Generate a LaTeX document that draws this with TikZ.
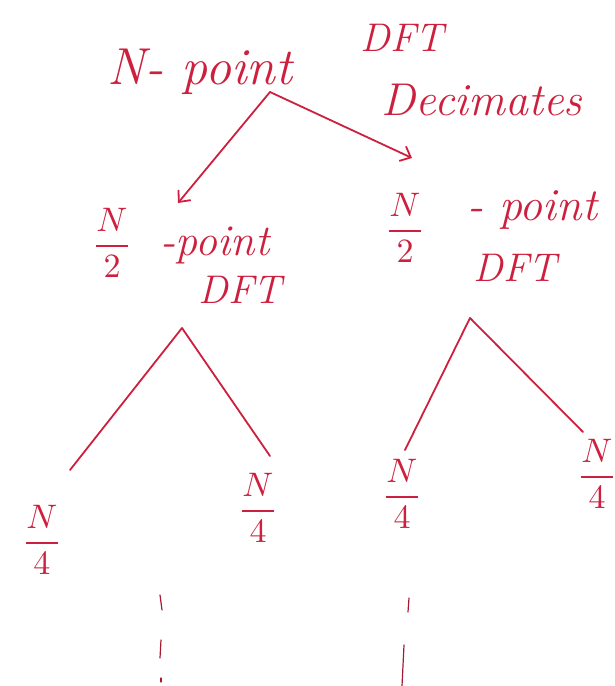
\documentclass[tikz,border=0pt]{standalone}
\usepackage{amsmath}
\usetikzlibrary{arrows.meta}
\definecolor{ink}{RGB}{205,32,62}
\tikzset{
  hand/.style={text=ink, font=\itshape\fontsize{40}{44}\selectfont, inner sep=0pt},
  bighand/.style={hand, font=\itshape\fontsize{52}{56}\selectfont},
  frac/.style={text=ink, scale=3.4, inner sep=0pt},
  wire/.style={draw=ink, line width=1.8pt, line cap=round, line join=round},
  tipped/.style={wire, -{Straight Barb[length=9pt,width=16pt,line width=1.8pt]}},
  dotmark/.style={draw=ink!80!black, line width=1.2pt, line cap=round}
}
\begin{document}
\begin{tikzpicture}[x=1pt,y=-1pt]
\useasboundingbox (0,0) rectangle (614,686);
\clip (0,0) rectangle (614,686);
% top node
\node[bighand] (top) at (200,72) {N- point};
\node[hand] (dft) at (402,38) {DFT};
\node[hand, font=\itshape\fontsize{46}{50}\selectfont] (dec) at (482,100) {Decimates};
\coordinate (a0) at (270,92);
\coordinate (la) at (178,203);
\coordinate (ra) at (412,158);
\draw[tipped] (a0) -- (la);
\draw[tipped] (a0) -- (ra);
% left node
\node[frac] (l2) at (112,243) {$\dfrac{N}{2}$};
\node[hand, font=\itshape\fontsize{44}{48}\selectfont] (lp) at (215,245) {-point};
\node[hand] (ld) at (240,290) {DFT};
\coordinate (a1) at (182,328);
\coordinate (l1e) at (70,470);
\coordinate (l2e) at (270,456);
\draw[wire] (a1) -- (l1e);
\draw[wire] (a1) -- (l2e);
% right node
\node[frac] (r2) at (405,228) {$\dfrac{N}{2}$};
\node[hand, font=\itshape\fontsize{46}{50}\selectfont] (rp) at (532,210) {- point};
\node[hand] (rd) at (515,268) {DFT};
\coordinate (a2) at (470,318);
\coordinate (r1e) at (405,450);
\coordinate (r2e) at (583,432);
\draw[wire] (a2) -- (r1e);
\draw[wire] (a2) -- (r2e);
% bottom fractions
\node[frac] (b1) at (42,540) {$\dfrac{N}{4}$};
\node[frac] (b2) at (258,508) {$\dfrac{N}{4}$};
\node[frac] (b3) at (402,494) {$\dfrac{N}{4}$};
\node[frac] (b4) at (597,474) {$\dfrac{N}{4}$};
% continuation dots
\coordinate (d1a) at (160,595); \coordinate (d1b) at (162,610);
\coordinate (d1c) at (161,640); \coordinate (d1d) at (160,658);
\coordinate (d1e) at (161,678); \coordinate (d1f) at (161,682);
\draw[dotmark] (d1a) -- (d1b);
\draw[dotmark] (d1c) -- (d1d);
\draw[dotmark] (d1e) -- (d1f);
\coordinate (d2a) at (409,598); \coordinate (d2b) at (408,612);
\coordinate (d2c) at (404,645); \coordinate (d2d) at (402,686);
\draw[dotmark] (d2a) -- (d2b);
\draw[dotmark] (d2c) -- (d2d);
\end{tikzpicture}
\end{document}
